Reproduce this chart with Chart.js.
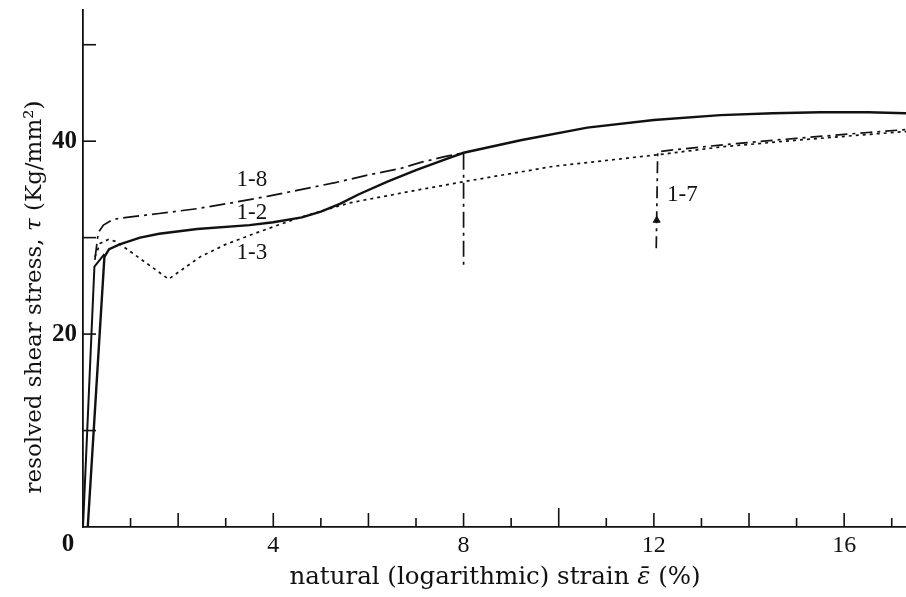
<!DOCTYPE html>
<html>
<head>
<meta charset="utf-8">
<script src="https://cdn.jsdelivr.net/npm/chart.js@4"></script>
<style>
  html, body { margin: 0; padding: 0; background: #fff; }
  canvas { display: block; }
</style>
</head>
<body>
<canvas id="chart" width="906" height="597"></canvas>
<script>
'use strict';

/* ── data (strain %, stress Kg/mm²) ─────────────────────────────── */
// shared elastic loading line of the interrupted tests
const loadStrain = [0, 0.24, 0.45];
const loadStress = [0, 27.0, 28.3];

// 1-2 : continuous test (solid)
const strain12 = [0.1, 0.45, 0.55, 0.77, 1.2, 1.6, 2.4, 3.5, 4.0, 4.6, 5.0, 5.4, 5.8, 6.4, 7.0, 7.6, 8.0, 9.2, 10.6, 12.0, 13.4, 14.5, 15.5, 16.5, 17.3];
const stress12 = [0, 28.0, 28.8, 29.3, 30.0, 30.4, 30.9, 31.3, 31.6, 32.1, 32.7, 33.5, 34.5, 35.8, 37.0, 38.1, 38.8, 40.1, 41.4, 42.2, 42.7, 42.9, 43.0, 43.0, 42.9];

// 1-8 : dash-dot, unloaded at 8 %
const strain18 = [0.25, 0.32, 0.43, 0.63, 0.92, 1.6, 2.4, 3.0, 3.9, 4.5, 5.3, 6.0, 6.7, 7.1, 7.6, 8.0, 8.0];
const stress18 = [27.7, 30.5, 31.3, 31.9, 32.1, 32.5, 33.0, 33.5, 34.3, 34.9, 35.7, 36.5, 37.2, 37.8, 38.4, 38.8, 26.9];

// 1-3 : dotted, with the yield drop
const strain13 = [0.25, 0.36, 0.53, 0.7, 1.8, 2.46, 3.0, 3.7, 4.5, 5.6, 7.1, 8.0, 9.9, 12.1, 13.4, 15.0, 16.5, 17.3];
const stress13 = [28.0, 29.4, 29.8, 29.6, 25.7, 28.0, 29.3, 30.6, 32.0, 33.6, 35.0, 35.8, 37.4, 38.6, 39.4, 40.1, 40.7, 41.0];

// 1-7 : reloaded at 12 %
const strain17 = [12.05, 12.08, 12.4, 13.4, 15.0, 16.5, 17.3];
const stress17 = [28.9, 38.9, 39.1, 39.6, 40.3, 40.9, 41.2];
const arrowStrain = [12.06];
const arrowStress = [31.8];

// axis ticks
const xTickLabels = [4, 8, 12, 16];
const xTickMarks  = [1, 2, 3, 4, 5, 6, 7, 8, 9, 10, 11, 12, 13, 14, 15, 16, 17];
const yTickLabels = [20, 40];
const yTickMarks  = [10, 20, 30, 40, 50];

// curve captions, placed in data coordinates
const curveLabels = [
  { text: '1-8', x: 3.55, y: 36.0 },
  { text: '1-2', x: 3.55, y: 32.6 },
  { text: '1-3', x: 3.55, y: 28.4 },
  { text: '1-7', x: 12.6, y: 34.4 },
];

const SERIF = '"Liberation Serif", "DejaVu Serif", serif';
const TITLE = '"DejaVu Serif", serif';
const INK = '#111';

const pts = (xs, ys) => xs.map((v, i) => ({ x: v, y: ys[i] }));

// draw a run of differently styled text pieces centred on (0, 0)
function drawRun(ctx, parts) {
  let total = 0;
  parts.forEach(p => { ctx.font = p.f; p.w = ctx.measureText(p.t).width; total += p.w; });
  ctx.textAlign = 'left';
  let cx = -total / 2;
  parts.forEach(p => { ctx.font = p.f; ctx.fillText(p.t, cx, 0); cx += p.w; });
}

/* ── inward ticks, captions, axis titles ─────────────────────────── */
const decorPlugin = {
  id: 'decor',
  afterDatasetsDraw(chart) {
    const { ctx, chartArea: a } = chart;
    const x = chart.scales.x, y = chart.scales.y;
    ctx.save();
    ctx.strokeStyle = INK;
    ctx.lineWidth = 1.6;

    xTickMarks.forEach(v => {
      const px = x.getPixelForValue(v);
      const len = v === 10 ? 19 : (v % 2 === 0 ? 14 : 9);
      ctx.beginPath();
      ctx.moveTo(px, a.bottom);
      ctx.lineTo(px, a.bottom - len);
      ctx.stroke();
    });
    yTickMarks.forEach(v => {
      const py = y.getPixelForValue(v);
      ctx.beginPath();
      ctx.moveTo(a.left, py);
      ctx.lineTo(a.left + 13, py);
      ctx.stroke();
    });

    ctx.fillStyle = INK;
    ctx.textAlign = 'center';
    ctx.textBaseline = 'middle';

    // shared origin label
    ctx.font = 'bold 25px ' + SERIF;
    ctx.fillText('0', x.getPixelForValue(0) - 15, a.bottom + 18);

    ctx.font = '23px ' + SERIF;
    curveLabels.forEach(l => {
      ctx.fillText(l.text, x.getPixelForValue(l.x), y.getPixelForValue(l.y));
    });

    // x-axis title
    ctx.save();
    ctx.translate(495, 578);
    drawRun(ctx, [
      { t: 'natural (logarithmic) strain ', f: '24.5px ' + TITLE },
      { t: 'ε\u0304', f: 'italic 24.5px ' + TITLE },
      { t: ' (%)', f: '24.5px ' + TITLE },
    ]);
    ctx.restore();

    // y-axis title, rotated
    ctx.translate(35, 297);
    ctx.rotate(-Math.PI / 2);
    drawRun(ctx, [
      { t: 'resolved shear stress, ', f: '23px ' + TITLE },
      { t: 'τ', f: 'italic 23px ' + TITLE },
      { t: ' (Kg/mm²)', f: '23px ' + TITLE },
    ]);

    ctx.restore();
  },
};

/* ── chart ───────────────────────────────────────────────────────── */
new Chart(document.getElementById('chart'), {
  type: 'line',
  data: {
    datasets: [
      { label: 'load', data: pts(loadStrain, loadStress), borderColor: INK, borderWidth: 2 },
      { label: '1-2', data: pts(strain12, stress12), borderColor: INK, borderWidth: 2.4 },
      { label: '1-8', data: pts(strain18, stress18), borderColor: INK, borderWidth: 1.7, borderDash: [16, 5, 3, 5] },
      { label: '1-3', data: pts(strain13, stress13), borderColor: INK, borderWidth: 1.7, borderDash: [3, 4] },
      { label: '1-7', data: pts(strain17, stress17), borderColor: INK, borderWidth: 1.7, borderDash: [12, 5, 3, 5] },
      {
        label: 'arrow', data: pts(arrowStrain, arrowStress), showLine: false,
        pointStyle: 'triangle', pointRadius: 4, pointBackgroundColor: INK, pointBorderColor: INK,
      },
    ],
  },
  options: {
    responsive: false,
    animation: false,
    layout: { autoPadding: false, padding: { top: 10, right: 0, bottom: 0, left: 0 } },
    elements: {
      line: { tension: 0, fill: false },
      point: { radius: 0 },
    },
    plugins: {
      legend: { display: false },
      tooltip: { enabled: false },
    },
    scales: {
      x: {
        type: 'linear',
        min: 0,
        max: 17.3,
        afterFit: s => { s.height = 70; s.paddingLeft = 0; s.paddingRight = 0; },
        afterBuildTicks: s => { s.ticks = xTickLabels.map(v => ({ value: v })); },
        grid: { display: false, drawTicks: false },
        border: { display: true, color: INK, width: 1.8 },
        ticks: { color: INK, padding: 4, maxRotation: 0, font: { family: SERIF, size: 24 } },
      },
      y: {
        type: 'linear',
        min: 0,
        max: 53.6,
        afterFit: s => { s.width = 83; s.paddingTop = 0; s.paddingBottom = 0; },
        afterBuildTicks: s => { s.ticks = yTickLabels.map(v => ({ value: v })); },
        grid: { display: false, drawTicks: false },
        border: { display: true, color: INK, width: 1.8 },
        ticks: { color: INK, padding: 6, font: { family: SERIF, size: 25, weight: 'bold' } },
      },
    },
  },
  plugins: [decorPlugin],
});
</script>
</body>
</html>
